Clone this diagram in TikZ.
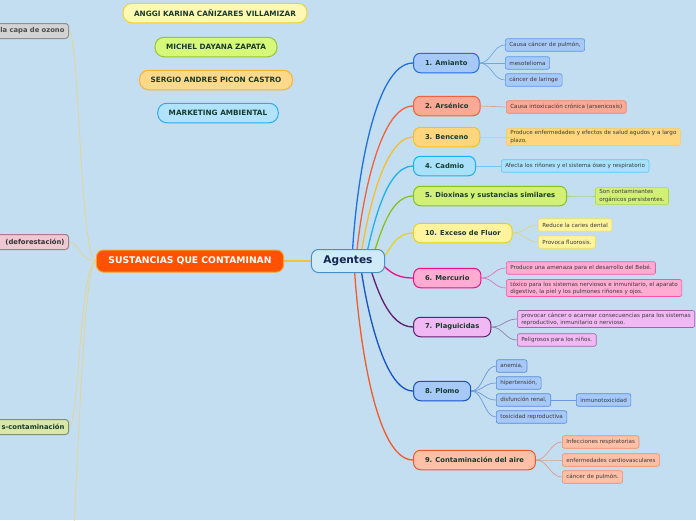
\documentclass[tikz,border=0pt]{standalone}
\usepackage{fontspec}
\setmainfont{DejaVu Sans}
\usetikzlibrary{backgrounds}
\definecolor{bg}{HTML}{C4DEF1}
\definecolor{ink}{HTML}{173B2E}
\definecolor{tipink}{HTML}{3A3A3A}
\definecolor{lef}{HTML}{E6D48A}
\definecolor{link}{HTML}{F3C23C}
\definecolor{amiF}{HTML}{A6C9F8}\definecolor{amiD}{HTML}{1F6FE0}
\definecolor{arsF}{HTML}{F9A996}\definecolor{arsD}{HTML}{F0623E}
\definecolor{benF}{HTML}{FFD67E}\definecolor{benD}{HTML}{F7BE2C}
\definecolor{cadF}{HTML}{A9E1FA}\definecolor{cadD}{HTML}{1DB0F0}
\definecolor{dioF}{HTML}{D2F174}\definecolor{dioD}{HTML}{86C21E}
\definecolor{fluF}{HTML}{FFF39E}\definecolor{fluD}{HTML}{E6D21E}
\definecolor{merF}{HTML}{FFABD2}\definecolor{merD}{HTML}{EE0E88}
\definecolor{plaF}{HTML}{F1B9F3}\definecolor{plaD}{HTML}{5E1F6E}
\definecolor{ploF}{HTML}{A6C9F8}\definecolor{ploD}{HTML}{1552C8}
\definecolor{airF}{HTML}{FFC0A8}\definecolor{airD}{HTML}{F25A26}
\definecolor{anF}{HTML}{FFF8B4}\definecolor{anD}{HTML}{EBD236}
\definecolor{miF}{HTML}{D6F97A}\definecolor{miD}{HTML}{96C632}
\definecolor{seF}{HTML}{FFD98A}\definecolor{seD}{HTML}{F6B234}
\definecolor{maF}{HTML}{B1E4FC}\definecolor{maD}{HTML}{2FAAEA}
\definecolor{susF}{HTML}{FF5100}\definecolor{susD}{HTML}{F7A02A}
\definecolor{agF}{HTML}{CFEBFA}\definecolor{agD}{HTML}{4B8FC8}
\definecolor{agT}{HTML}{14254E}
\definecolor{ozF}{HTML}{D3D3D3}\definecolor{ozD}{HTML}{8F8F8F}
\definecolor{defF}{HTML}{EDC9D1}\definecolor{defD}{HTML}{A47E8A}
\definecolor{scF}{HTML}{D9E8A9}\definecolor{scD}{HTML}{7E9178}
\tikzset{
  col/.style={fill=#1F, draw=#1D},
  tcol/.style={fill=#1F, draw=#1D!55!#1F},
  br/.style={draw=#1D, line width=1.3pt},
  tbr/.style={draw=#1D!50!bg, line width=0.7pt},
  box/.style={draw, rounded corners=7pt, line width=1pt, font=\bfseries\fontsize{6.8}{8}\selectfont, text=ink, minimum height=19.5pt, inner xsep=11.5pt, anchor=west},
  tip/.style={draw, rounded corners=2pt, line width=0.6pt, font=\fontsize{5.6}{7.3}\selectfont, text=tipink, minimum height=12.5pt, inner xsep=4pt, inner ysep=2pt, align=left, anchor=west},
  author/.style={box, anchor=center, rounded corners=9pt, inner xsep=11pt, font=\bfseries\fontsize{7.3}{9}\selectfont},
  cut/.style={box, anchor=east, text width=140pt, align=right, minimum height=15pt, inner xsep=4pt, rounded corners=3pt},
}
\begin{document}
\begin{tikzpicture}[x=1pt,y=-1pt]
\useasboundingbox (0,0) rectangle (696,520);
\node[author, col=an] (anggi) at (215,13) {ANGGI KARINA CAÑIZARES VILLAMIZAR};
\node[author, col=mi] (michel) at (216,47) {MICHEL DAYANA ZAPATA};
\node[author, col=se] (sergio) at (216,80) {SERGIO ANDRES PICON CASTRO};
\node[author, col=ma] (mkt) at (218,113) {MARKETING AMBIENTAL};
\node[cut, col=oz, text=black!70] (ozono) at (69,31) {la capa de ozono};
\node[cut, col=def, text=black!80] (defo) at (69,242) {(deforestación)};
\node[cut, col=sc] (scont) at (69,427) {s-contaminación};
\coordinate (lost) at (66,600);
\node[box, col=sus, anchor=center, text=white, font=\bfseries\fontsize{9.2}{11}\selectfont, minimum height=22pt, inner xsep=12pt] (sus) at (190,261) {SUSTANCIAS QUE CONTAMINAN};
\node[box, col=ag, anchor=center, text=agT, font=\bfseries\fontsize{10.6}{12}\selectfont, minimum height=23pt, inner xsep=12pt] (ag) at (348,261) {Agentes};
\node[box, col=ami] (ami) at (413,63) {1. Amianto};
\node[box, col=ars] (ars) at (413,106) {2. Arsénico};
\node[box, col=ben] (ben) at (413,137) {3. Benceno};
\node[box, col=cad] (cad) at (413,166) {4. Cadmio};
\node[box, col=dio] (dio) at (413,196) {5. Dioxinas y sustancias similares};
\node[box, col=flu] (flu) at (413,233) {10. Exceso de Fluor};
\node[box, col=mer] (mer) at (413,278) {6. Mercurio};
\node[box, col=pla] (pla) at (413,327) {7. Plaguicidas};
\node[box, col=plo] (plo) at (413,391) {8. Plomo};
\node[box, col=air] (air) at (413,460) {9. Contaminación del aire};
\node[tip, tcol=ami] (ami1) at (505,45) {Causa cáncer de pulmón,};
\node[tip, tcol=ami] (ami2) at (505,63) {mesotelioma};
\node[tip, tcol=ami] (ami3) at (505,80) {cáncer de laringe};
\node[tip, tcol=ars] (ars1) at (506,107) {Causa intoxicación crónica (arsenicosis)};
\node[tip, tcol=ben] (ben1) at (506,137) {Produce enfermedades y efectos de salud agudos y a largo\\plazo.};
\node[tip, tcol=cad] (cad1) at (501,166) {Afecta los riñones y el sistema óseo y respiratorio};
\node[tip, tcol=dio] (dio1) at (595,196) {Son contaminantes\\orgánicos persistentes.};
\node[tip, tcol=flu] (flu1) at (538,225) {Reduce la caries dental};
\node[tip, tcol=flu] (flu2) at (538,242) {Provoca fluorosis.};
\node[tip, tcol=mer] (mer1) at (506,268) {Produce una amenaza para el desarrollo del Bebé.};
\node[tip, tcol=mer] (mer2) at (506,288) {tóxico para los sistemas nerviosos e inmunitario, el aparato\\digestivo, la piel y los pulmones riñones y ojos.};
\node[tip, tcol=pla] (pla1) at (517,319) {provocar cáncer o acarrear consecuencias para los sistemas\\reproductivo, inmunitario o nervioso.};
\node[tip, tcol=pla] (pla2) at (517,340) {Peligrosos para los niños.};
\node[tip, tcol=plo] (plo1) at (496,366) {anemia,};
\node[tip, tcol=plo] (plo2) at (496,383) {hipertensión,};
\node[tip, tcol=plo] (plo3) at (496,400) {disfunción renal,};
\node[tip, tcol=plo] (plo4) at (496,417) {tosicidad reproductiva};
\node[tip, tcol=plo] (plo5) at (576,400) {inmunotoxicidad};
\node[tip, tcol=air] (air1) at (562,442) {Infecciones respiratorias};
\node[tip, tcol=air] (air2) at (562,460) {enfermedades cardiovasculares};
\node[tip, tcol=air] (air3) at (562,477) {cáncer de pulmón.};
\begin{scope}[on background layer]
\fill[bg] (0,0) rectangle (696,520);
\foreach \t in {ozono,defo,scont}
  \draw[lef, line width=0.7pt] (sus.west) .. controls +(-16,0) and +(10,0) .. (\t.east);
\draw[lef, line width=0.7pt] (sus.west) .. controls +(-16,0) and +(10,0) .. (lost);
\draw[link, line width=1.1pt] (sus.east) -- (ag.west);
\foreach \c/\s/\a/\b/\d in {ami/4/3/-70/-40, ars/8/4/-50/-35, ben/12/6/-40/-30, cad/17/7/-30/-28, dio/23/8/-20/-25, flu/32/10/-8/-20, mer/30/10/8/-20, pla/20/8/25/-25, plo/12/5/40/-30, air/6/3/60/-40}
  \draw[br=\c] ([xshift=\s pt]ag.center) .. controls +(\a,\b) and +(\d,0) .. (\c.west);
\foreach \c/\t in {ami/ami1, ami/ami2, ami/ami3, ars/ars1, ben/ben1, cad/cad1, dio/dio1, flu/flu1, flu/flu2, mer/mer1, mer/mer2, pla/pla1, pla/pla2, plo/plo1, plo/plo2, plo/plo3, plo/plo4, air/air1, air/air2, air/air3}
  \draw[tbr=\c] (\c.east) .. controls +(12,0) and +(-12,0) .. (\t.west);
\draw[tbr=plo] (plo3) -- (plo5);
\end{scope}
\end{tikzpicture}
\end{document}
